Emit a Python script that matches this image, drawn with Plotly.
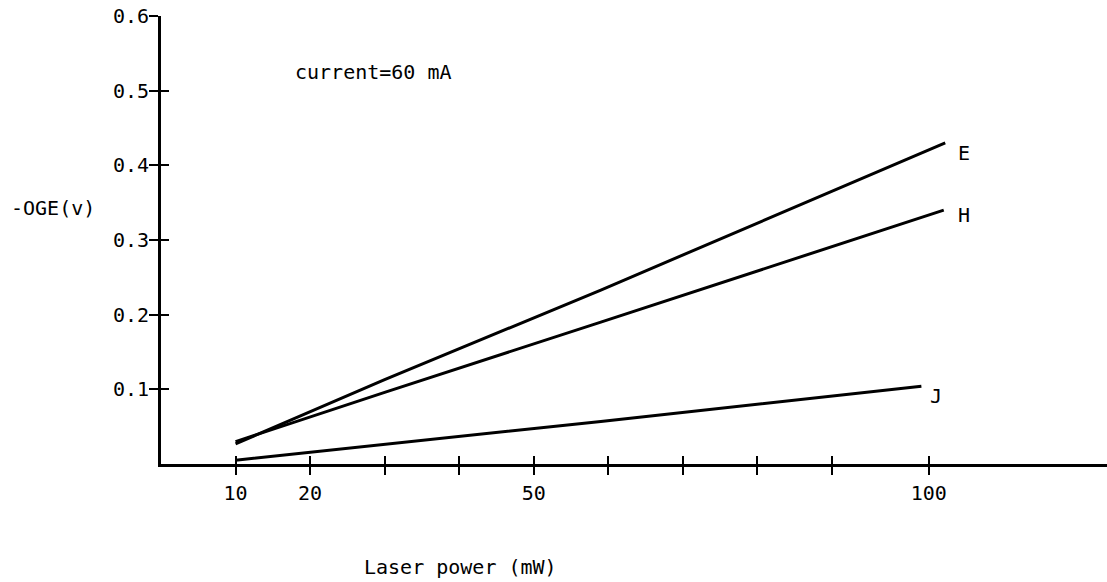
import plotly.graph_objects as go

# Data (x: laser power in mW, y: -OGE in volts)
e_x = [10, 30, 59, 105.2]
e_y = [0.027, 0.113, 0.233, 0.430]
h_x = [10, 30, 59, 105.0]
h_y = [0.030, 0.096, 0.190, 0.340]
j_x = [10, 59, 102.0]
j_y = [0.005, 0.057, 0.104]

# Axis ticks as drawn (the "100" mark sits a bit right of a uniform scale)
x_tickvals = [10, 20, 30, 40, 50, 60, 70, 80, 90, 103]
x_ticktext = ["10", "20", "", "", "50", "", "", "", "", "100"]
y_tickvals = [0.1, 0.2, 0.3, 0.4, 0.5, 0.6]
y_ticktext = ["0.1", "0.2", "0.3", "0.4", "0.5", "0.6"]

series_labels = ["E", "H", "J"]

FONT = "DejaVu Sans Mono"
FS = 20
BLACK = "#000000"

fig = go.Figure()
for xs, ys in [(e_x, e_y), (h_x, h_y), (j_x, j_y)]:
    fig.add_trace(go.Scatter(x=xs, y=ys, mode="lines",
                             line=dict(color=BLACK, width=3),
                             showlegend=False, hoverinfo="skip"))
# invisible trace on overlay axes so they render
fig.add_trace(go.Scatter(x=[0], y=[0], xaxis="x2", yaxis="y2", mode="markers",
                         marker=dict(opacity=0), showlegend=False, hoverinfo="skip"))

xrange = [0, 126.9]
yrange = [0, 0.6]

fig.update_layout(
    width=1107, height=582,
    margin=dict(l=161, r=0, t=16, b=118),
    paper_bgcolor="white", plot_bgcolor="white",
    font=dict(family=FONT, size=FS, color=BLACK),
    xaxis=dict(range=xrange, showgrid=False, zeroline=False,
               showline=True, linecolor=BLACK, linewidth=3,
               ticks="outside", ticklen=8, tickwidth=2, tickcolor=BLACK,
               tickmode="array", tickvals=x_tickvals, ticktext=x_ticktext,
               ticklabelstandoff=1,
               tickfont=dict(family=FONT, size=FS, color=BLACK)),
    yaxis=dict(range=yrange, showgrid=False, zeroline=False,
               showline=True, linecolor=BLACK, linewidth=3,
               ticks="outside", ticklen=9, tickwidth=2, tickcolor=BLACK,
               tickmode="array", tickvals=y_tickvals, ticktext=y_ticktext,
               ticklabelstandoff=-4,
               tickfont=dict(family=FONT, size=FS, color=BLACK)),
    xaxis2=dict(range=xrange, overlaying="x", side="bottom", anchor="y2",
                showgrid=False, zeroline=False, showline=False,
                ticks="inside", ticklen=8, tickwidth=2, tickcolor=BLACK,
                tickmode="array", tickvals=x_tickvals, showticklabels=False),
    yaxis2=dict(range=yrange, overlaying="y", side="left", anchor="x2",
                showgrid=False, zeroline=False, showline=False,
                ticks="inside", ticklen=8, tickwidth=2, tickcolor=BLACK,
                tickmode="array", tickvals=y_tickvals, showticklabels=False),
)

annotations = [
    dict(text="current=60 mA", xref="paper", yref="paper", x=0.1394, y=0.875,
         xanchor="left", yanchor="middle", showarrow=False),
    dict(text="-OGE(v)", xref="paper", yref="paper", x=-0.1605, y=0.571,
         xanchor="left", yanchor="middle", showarrow=False),
    dict(text="Laser power (mW)", xref="paper", yref="paper", x=0.3168, y=-0.2299,
         xanchor="center", yanchor="middle", showarrow=False),
]
label_pos = [(106.6, 0.416), (106.6, 0.333), (102.9, 0.091)]
for lab, (lx, ly) in zip(series_labels, label_pos):
    annotations.append(dict(text=lab, x=lx, y=ly, xref="x", yref="y",
                            xanchor="left", yanchor="middle", showarrow=False))
fig.update_layout(annotations=annotations)
for a in fig.layout.annotations:
    a.font = dict(family=FONT, size=FS, color=BLACK)

fig.write_html("out.html",
               config={"displayModeBar": False, "staticPlot": True},
               post_script="document.body.style.margin='0';document.body.style.overflow='hidden';")
